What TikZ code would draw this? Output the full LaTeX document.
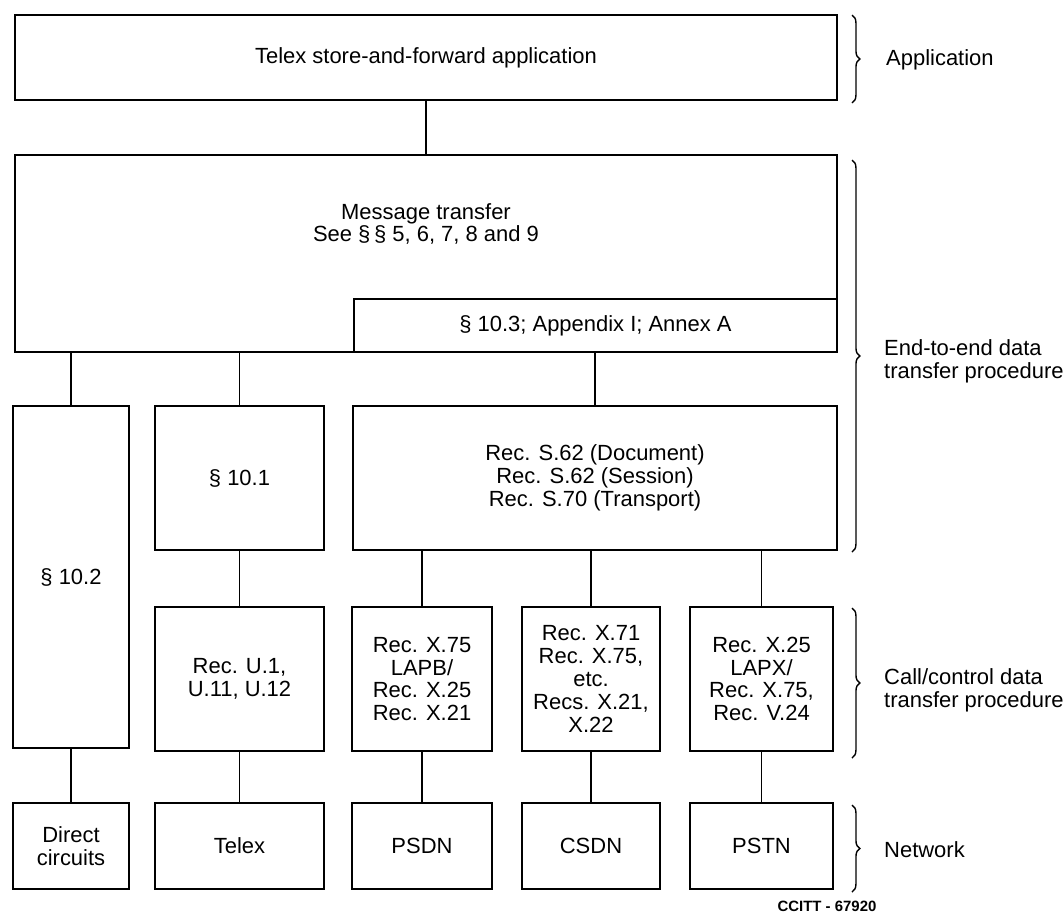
\documentclass[tikz,border=0pt]{standalone}
\usepackage{fontspec}
\setmainfont{Liberation Sans}
\usetikzlibrary{decorations.pathreplacing}
\begin{document}
\begin{tikzpicture}[
    x=0.02cm, y=-0.02cm,
    font=\fontsize{12.5}{13}\selectfont,
    blk/.style={draw, line width=1.4pt, inner sep=0pt, align=center},
    wh/.style 2 args={minimum width=#1*0.02cm, minimum height=#2*0.02cm},
    wire/.style={line width=0.9pt},
    brc/.style={decorate, decoration={brace, amplitude=4.5pt}, line width=0.8pt},
    lyr/.style={anchor=west, align=left}
  ]
  \useasboundingbox (0,0) rectangle (1063,917);
  % application layer
  \node[blk, wh={822}{85}] (app) at (426,57.5) {Telex store-and-forward application};
  % end-to-end layer
  \node[blk, wh={822}{197}] (msg) at (426,253.5) {};
  \node[align=center] (msgtxt) at (426,224) {Message transfer\\See §\,§ 5, 6, 7, 8 and 9};
  \node[blk, wh={483}{53}] (annex) at (595.5,325.5) {§ 10.3; Appendix I; Annex A};
  \node[blk, wh={116}{342}] (s102) at (71,577) {§ 10.2};
  \node[blk, wh={169}{144}] (s101) at (239.5,478) {§ 10.1};
  \node[blk, wh={484}{144}] (s62) at (595,478) {Rec. S.62 (Document)\\Rec. S.62 (Session)\\Rec. S.70 (Transport)};
  % call/control layer
  \node[blk, wh={169}{144}] (u1) at (239.5,679) {Rec. U.1,\\U.11, U.12};
  \node[blk, wh={140}{144}] (x75) at (422,679) {Rec. X.75\\LAPB/\\Rec. X.25\\Rec. X.21};
  \node[blk, wh={138}{144}] (x71) at (591,679) {Rec. X.71\\Rec. X.75,\\etc.\\Recs. X.21,\\X.22};
  \node[blk, wh={143}{144}] (x25) at (761.5,679) {Rec. X.25\\LAPX/\\Rec. X.75,\\Rec. V.24};
  % network layer
  \node[blk, wh={116}{86}] (direct) at (71,846) {Direct\\circuits};
  \node[blk, wh={169}{86}] (telex) at (239.5,846) {Telex};
  \node[blk, wh={140}{86}] (psdn) at (422,846) {PSDN};
  \node[blk, wh={138}{86}] (csdn) at (591,846) {CSDN};
  \node[blk, wh={143}{86}] (pstn) at (761.5,846) {PSTN};

  % connections
  \draw[wire] (app.south) -- (msg.north);
  \draw[wire] (s102.north) -- (s102.north |- msg.south);
  \draw[wire] (s101.north) -- (s101.north |- msg.south);
  \draw[wire] (s62.north) -- (s62.north |- annex.south);
  \draw[wire] (u1.north) -- (u1.north |- s101.south);
  \foreach \n in {x75,x71,x25}
    \draw[wire] (\n.north) -- (\n.north |- s62.south);
  \draw[wire] (direct.north) -- (direct.north |- s102.south);
  \draw[wire] (telex.north) -- (telex.north |- u1.south);
  \draw[wire] (psdn.north) -- (psdn.north |- x75.south);
  \draw[wire] (csdn.north) -- (csdn.north |- x71.south);
  \draw[wire] (pstn.north) -- (pstn.north |- x25.south);

  % layer braces
  \coordinate (b1t) at (852,15);  \coordinate (b1b) at (852,103);
  \coordinate (b2t) at (852,160); \coordinate (b2b) at (852,552);
  \coordinate (b3t) at (852,608); \coordinate (b3b) at (852,758);
  \coordinate (b4t) at (852,805); \coordinate (b4b) at (852,892);
  \draw[brc] (b1t) -- (b1b);
  \draw[brc] (b2t) -- (b2b);
  \draw[brc] (b3t) -- (b3b);
  \draw[brc] (b4t) -- (b4b);
  \node[lyr] (lapp) at (880,60) {Application};
  \node[lyr] (le2e) at (878,361) {End-to-end data\\transfer procedure};
  \node[lyr] (lcall) at (878,690) {Call/control data\\transfer procedure};
  \node[lyr] (lnet) at (878,850) {Network};

  \node[font=\bfseries\fontsize{8.5}{9}\selectfont] (fig) at (827,906) {CCITT - 67920};
\end{tikzpicture}
\end{document}
